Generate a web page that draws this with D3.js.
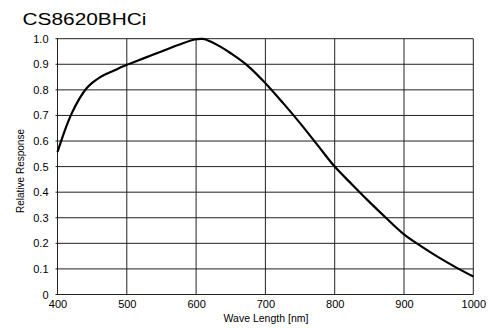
<!DOCTYPE html>
<html>
<head>
<meta charset="utf-8">
<script src="https://cdn.jsdelivr.net/npm/d3@7"></script>
<style>
  html, body { margin: 0; padding: 0; background: #fff; }
  svg { display: block; }
  text { font-family: "Liberation Sans", Arial, sans-serif; fill: #000; }
</style>
</head>
<body>
<svg id="chart" width="502" height="328"></svg>
<script>
const title = "CS8620BHCi";
const xLabel = "Wave Length [nm]";
const yLabel = "Relative Response";
const xTicks = [400, 500, 600, 700, 800, 900, 1000];
const yTicks = [0, 0.1, 0.2, 0.3, 0.4, 0.5, 0.6, 0.7, 0.8, 0.9, 1.0];
const wavelength = [400, 410, 420, 430, 442, 450, 460, 470, 480, 490, 500, 525, 550, 575, 598, 610, 620, 635, 650, 675, 700, 725, 750, 775, 800, 825, 850, 875, 900, 925, 950, 975, 1000];
const response  = [0.557, 0.637, 0.705, 0.758, 0.806, 0.827, 0.847, 0.862, 0.874, 0.886, 0.898, 0.924, 0.95, 0.976, 0.997, 0.999, 0.99, 0.969, 0.943, 0.893, 0.826, 0.75, 0.67, 0.585, 0.50, 0.43, 0.362, 0.297, 0.235, 0.188, 0.145, 0.106, 0.07];

const svg = d3.select("#chart");
const x = d3.scaleLinear().domain([400, 1000]).range([57.5, 473.3]);
const y = d3.scaleLinear().domain([0, 1]).range([294.5, 38.7]);

// grid
const g = svg.append("g");
g.selectAll("line.h").data(yTicks).join("line")
  .attr("x1", x(400) - 2).attr("x2", x(1000))
  .attr("y1", d => y(d)).attr("y2", d => y(d))
  .attr("stroke", "#222").attr("stroke-width", 1);
g.selectAll("line.v").data(xTicks).join("line")
  .attr("x1", d => x(d)).attr("x2", d => x(d))
  .attr("y1", y(0)).attr("y2", y(1))
  .attr("stroke", "#222").attr("stroke-width", 1);

// axes labels
const xAxis = d3.axisBottom(x).tickValues(xTicks).tickSize(0).tickPadding(6).tickFormat(d3.format("d"));
const xg = svg.append("g").attr("transform", `translate(0,${y(0)})`).call(xAxis);
xg.select(".domain").remove();
xg.selectAll("text").attr("font-size", "11px").attr("font-family", "Liberation Sans, Arial, sans-serif");

const yAxis = d3.axisLeft(y).tickValues(yTicks).tickSize(0).tickPadding(9)
  .tickFormat(d => d === 0 ? "0" : d3.format(".1f")(d));
const yg = svg.append("g").attr("transform", `translate(${x(400)},0)`).call(yAxis);
yg.select(".domain").remove();
yg.selectAll("text").attr("font-size", "11px").attr("font-family", "Liberation Sans, Arial, sans-serif");

// curve
const line = d3.line()
  .x((d, i) => x(wavelength[i]))
  .y((d, i) => y(response[i]))
  .curve(d3.curveCatmullRom.alpha(0.5));
svg.append("path").datum(response)
  .attr("d", line)
  .attr("fill", "none").attr("stroke", "#000").attr("stroke-width", 2.2)
  .attr("stroke-linejoin", "round");

// title
svg.append("text").attr("x", 22.5).attr("y", 25)
  .attr("font-size", "16px")
  .attr("textLength", 124).attr("lengthAdjust", "spacingAndGlyphs")
  .text(title);

svg.append("text").attr("x", 266).attr("y", 322)
  .attr("text-anchor", "middle").attr("font-size", "10.5px")
  .text(xLabel);

svg.append("text")
  .attr("transform", "translate(24,171) rotate(-90)")
  .attr("text-anchor", "middle").attr("font-size", "10px")
  .text(yLabel);
</script>
</body>
</html>
